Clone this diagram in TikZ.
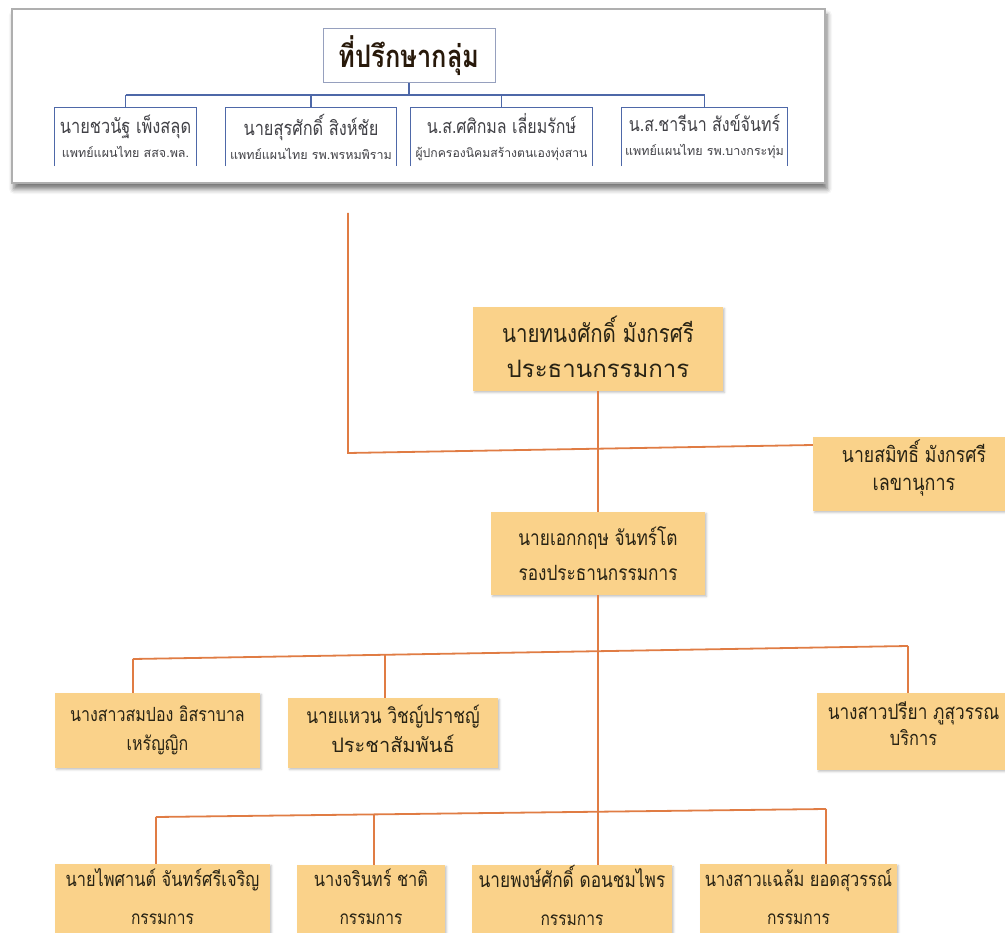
\documentclass[tikz,border=0pt]{standalone}
\usepackage{fontspec}
\newfontfamily\thai[Script=Thai,FakeStretch=0.82]{Loma}
\newfontfamily\thaiw[Script=Thai]{Loma}
\usetikzlibrary{shadows.blur,calc}
\definecolor{oboxc}{RGB}{250,210,138}
\definecolor{olinec}{RGB}{224,124,68}
\definecolor{blinec}{RGB}{78,104,168}
\definecolor{tborderc}{RGB}{150,160,190}
\definecolor{otextc}{RGB}{40,35,20}
\definecolor{btextc}{RGB}{65,65,70}
\definecolor{panelc}{RGB}{175,175,175}
% raise, size1, size2, baseline distance, line1, line2
\newcommand{\boxtxt}[6]{\raisebox{#1pt}{\vbox{\baselineskip=#4pt\lineskiplimit=-200pt\lineskip=0pt
  \halign{\hfil##\hfil\cr\fontsize{#2}{#2}\selectfont #5\cr\fontsize{#3}{#3}\selectfont #6\cr}}}}
\begin{document}
\begin{tikzpicture}[x=1pt,y=-1pt,
  panel/.style={draw=panelc, line width=1.2pt, fill=white, inner sep=0pt,
    blur shadow={shadow xshift=2pt, shadow yshift=-6pt, shadow blur radius=5pt, shadow opacity=55}},
  titlebox/.style={draw=tborderc, line width=1pt, fill=white, inner sep=0pt, font=\thai\bfseries, text={rgb,255:red,40;green,25;blue,10}},
  bbox/.style={inner sep=0pt, text=btextc, font=\thai},
  obox/.style={fill=oboxc, draw=none, inner sep=0pt, text=otextc, font=\thai,
    blur shadow={shadow xshift=1.5pt, shadow yshift=-1.5pt, shadow blur radius=2pt, shadow opacity=25}},
  oline/.style={draw=olinec, line width=1.8pt},
  bline/.style={draw=blinec, line width=1.3pt},
  ushape/.style={draw=blinec, line width=1pt}
]
\useasboundingbox (0,0) rectangle (1005,933);
\clip (0,0) rectangle (1005,933);

% ---------- advisory panel ----------
\node[panel, minimum width=813pt, minimum height=174pt] (panel) at (418.5,96) {};
\node[titlebox, minimum width=172pt, minimum height=54pt] (title) at (409,56) {\fontsize{31}{31}\selectfont ที่ปรึกษากลุ่ม};

\node[bbox, minimum width=141pt, minimum height=58pt] (b1) at (125.5,137)
  {\boxtxt{1}{20}{12.5}{24}{นายชวนัฐ เพ็งสลุด}{\thaiw แพทย์แผนไทย สสจ.พล.}};
\node[bbox, minimum width=170pt, minimum height=58pt] (b2) at (311,137)
  {\boxtxt{1}{20}{12.5}{24}{นายสุรศักดิ์ สิงห์ชัย}{\thaiw แพทย์แผนไทย รพ.พรหมพิราม}};
\node[bbox, minimum width=181pt, minimum height=58pt] (b3) at (501.5,137)
  {\boxtxt{1}{19.5}{12.2}{24}{น.ส.ศศิกมล เลี่ยมรักษ์}{\thaiw ผู้ปกครองนิคมสร้างตนเองทุ่งสาน}};
\node[bbox, minimum width=165pt, minimum height=58pt] (b4) at (704.5,137)
  {\boxtxt{1}{19.5}{12.5}{24}{น.ส.ชารีนา สังข์จันทร์}{\thaiw แพทย์แผนไทย รพ.บางกระทุ่ม}};
\foreach \b in {b1,b2,b3,b4}
  \draw[ushape] (\b.south west) -- (\b.north west) -- (\b.north east) -- (\b.south east);

\coordinate (tbus) at (409,95);
\draw[bline] (title.south) -- (tbus);
\draw[bline] (b1.north |- tbus) -- (b4.north |- tbus);
\foreach \b in {b1,b2,b3,b4}
  \draw[bline] (\b.north |- tbus) -- (\b.north);

% ---------- committee ----------
\node[obox, minimum width=250pt, minimum height=84pt] (chair) at (598,349)
  {\boxtxt{4}{25}{24}{35}{นายทนงศักดิ์ มังกรศรี}{\thaiw ประธานกรรมการ}};
\node[obox, minimum width=202pt, minimum height=74pt] (sec) at (914,474)
  {\boxtxt{18}{21.5}{22}{28}{นายสมิทธิ์ มังกรศรี}{เลขานุการ}};
\node[obox, minimum width=214pt, minimum height=83pt] (vice) at (598,553.5)
  {\boxtxt{0}{21}{21}{35}{นายเอกกฤษ จันทร์โต}{รองประธานกรรมการ}};

\node[obox, minimum width=205pt, minimum height=75pt] (ka) at (157.5,730.5)
  {\boxtxt{5}{19.5}{19.5}{29}{นางสาวสมปอง อิสราบาล}{เหรัญญิก}};
\node[obox, minimum width=210pt, minimum height=70pt] (kb) at (393,733)
  {\boxtxt{9}{21}{20}{29}{นายแหวน วิชญ์ปราชญ์}{\thaiw ประชาสัมพันธ์}};
\node[obox, minimum width=193pt, minimum height=77pt] (kc) at (913.5,731.5)
  {\boxtxt{16}{21}{20}{26}{นางสาวปรียา ภูสุวรรณ}{บริการ}};

\node[obox, minimum width=215pt, minimum height=76pt] (kd) at (162.5,902)
  {\boxtxt{11}{20}{19}{38}{นายไพศานต์ จันทร์ศรีเจริญ}{กรรมการ}};
\node[obox, minimum width=148pt, minimum height=76pt] (ke) at (371,903)
  {\boxtxt{12}{20}{19}{38}{นางจรินทร์ ชาติ}{กรรมการ}};
\node[obox, minimum width=200pt, minimum height=72pt] (kf) at (572,904)
  {\boxtxt{17}{21}{19}{38}{นายพงษ์ศักดิ์ ดอนชมไพร}{กรรมการ}};
\node[obox, minimum width=197pt, minimum height=76pt] (kg) at (798.5,902)
  {\boxtxt{11}{20}{19}{38}{นางสาวแฉล้ม ยอดสุวรรณ์}{กรรมการ}};

% connectors
\coordinate (advtop) at (348,213);
\coordinate (advcorner) at (348,453);
\coordinate (secin) at (sec.west |- 0,445);
\draw[oline] (advtop) -- (advcorner) -- (secin);

\draw[oline] (chair.south) -- (chair.south |- vice.north);
\draw[oline] (vice.south) -- (vice.south |- kf.north);

\coordinate (ubl) at (133,659);
\coordinate (ubr) at (908,646);
\draw[oline] (ubl) -- (ubr);
\draw[oline] (ubl) -- (ubl |- ka.north);
\coordinate (ubb) at (385,655);
\draw[oline] (ubb) -- (ubb |- kb.north);
\draw[oline] (ubr) -- (ubr |- kc.north);

\coordinate (lbl) at (156,817);
\coordinate (lbr) at (826,809);
\draw[oline] (lbl) -- (lbr);
\draw[oline] (lbl) -- (lbl |- kd.north);
\coordinate (lbe) at (374,814);
\draw[oline] (lbe) -- (lbe |- ke.north);
\draw[oline] (lbr) -- (lbr |- kg.north);
\end{tikzpicture}
\end{document}
